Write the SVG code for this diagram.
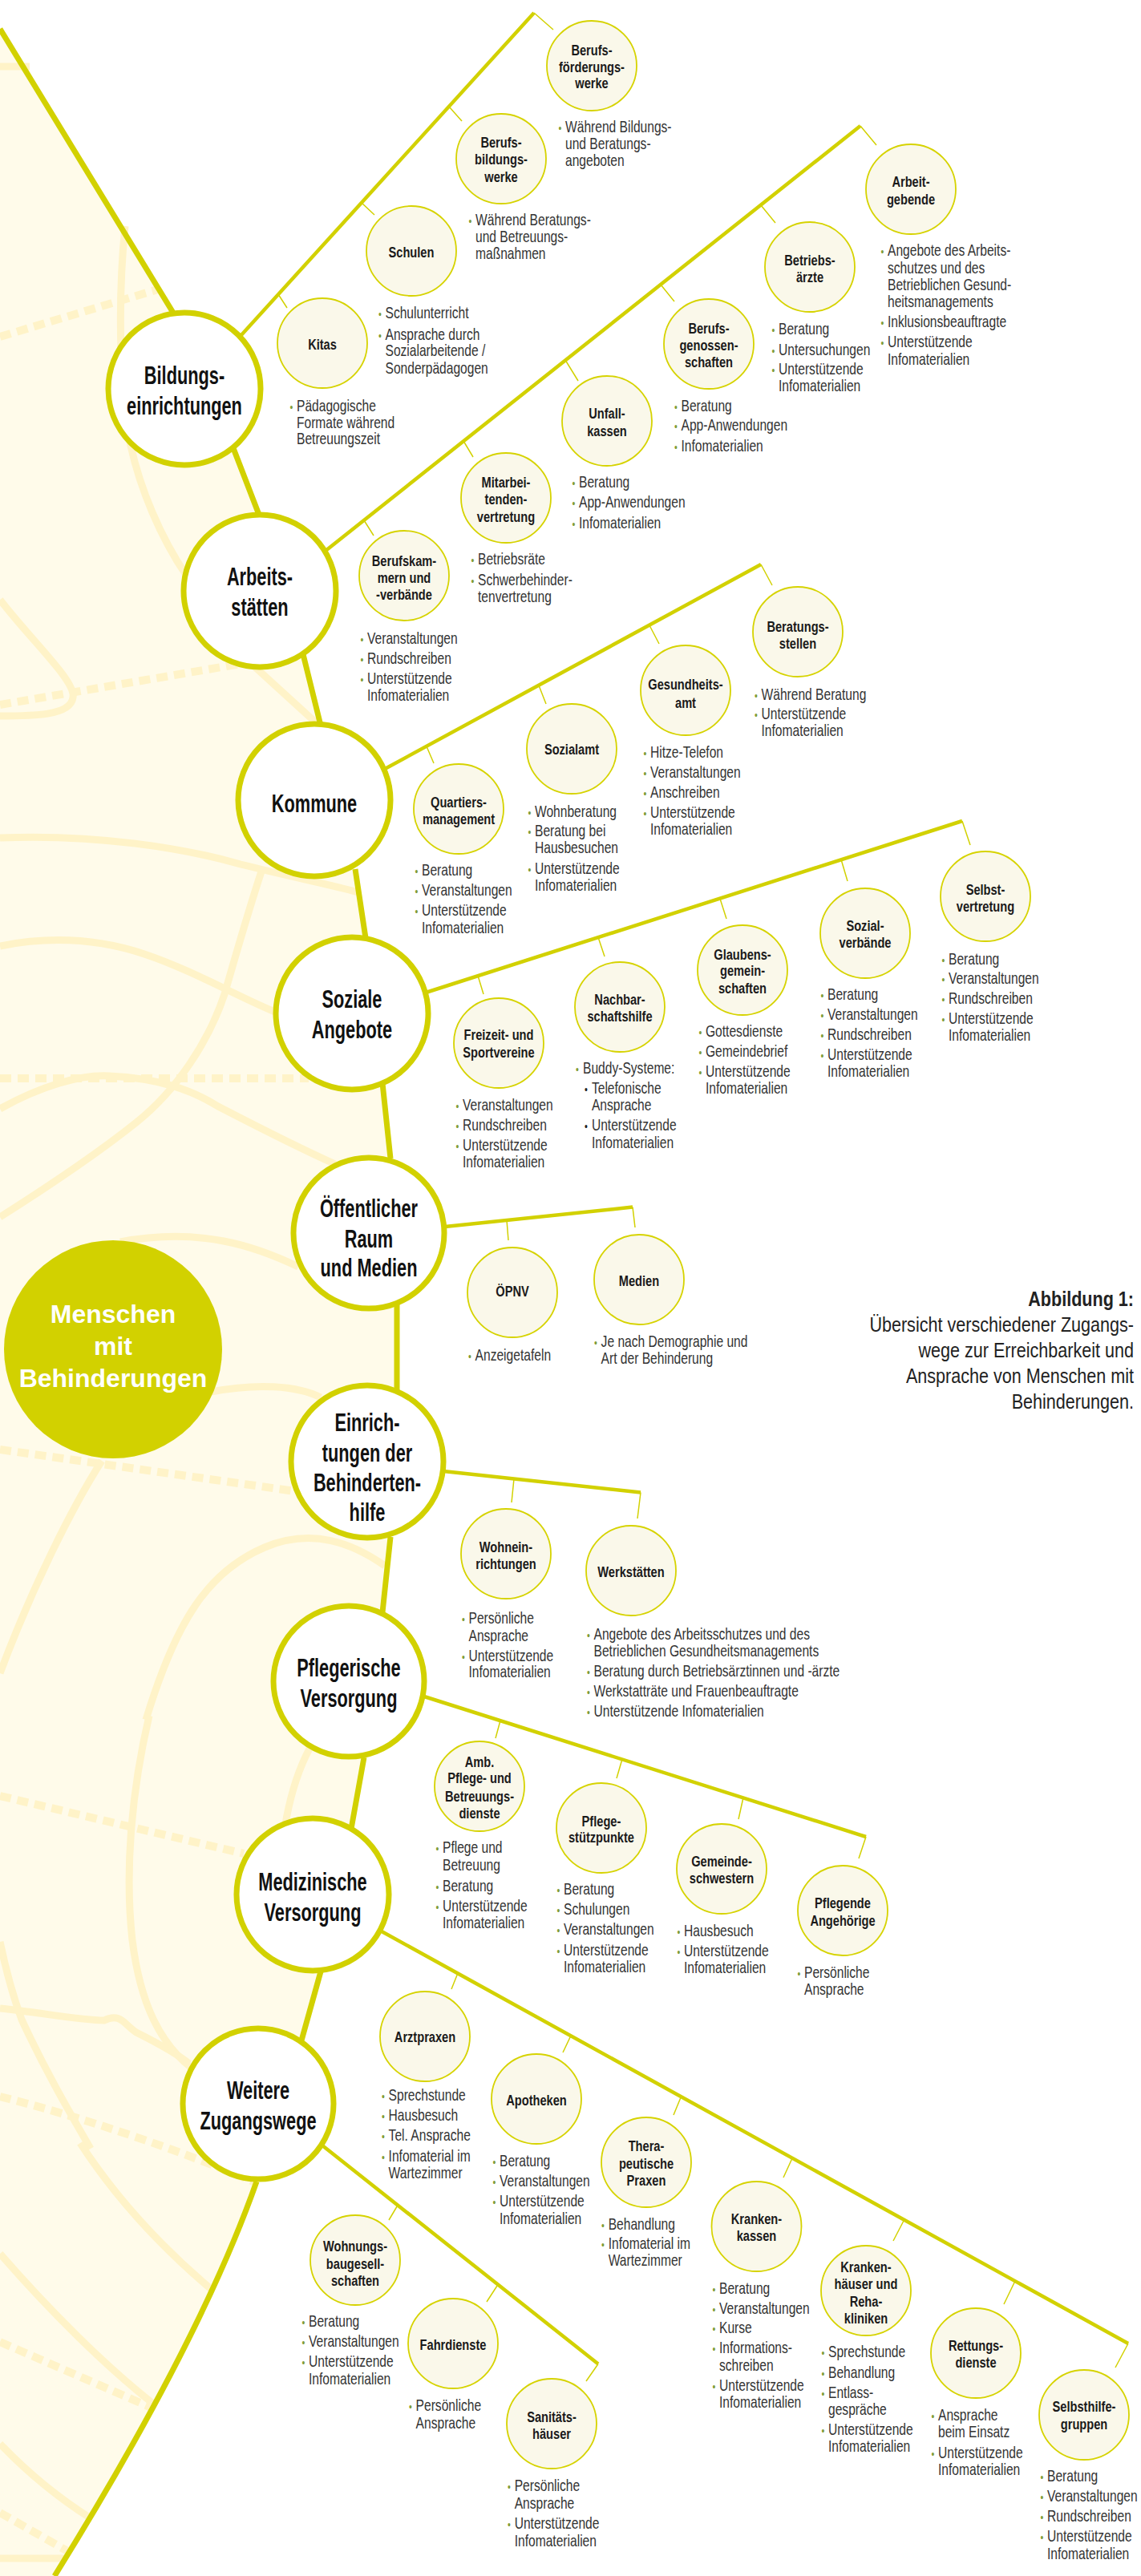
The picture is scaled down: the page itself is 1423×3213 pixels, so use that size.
<svg xmlns="http://www.w3.org/2000/svg" width="1423" height="3213" viewBox="0 0 1423 3213">
<style>
.spine{fill:none;stroke:#d2d100;stroke-width:7}
.br{fill:none;stroke:#d2d100;stroke-width:4.5}
.tk{fill:none;stroke:#d2d100;stroke-width:1.5}
.deco{fill:none;stroke:#fff3c8;stroke-width:9}
.dash{fill:none;stroke:#fff3c8;stroke-width:10;stroke-dasharray:14 8}
.mn{fill:#fff;stroke:#d2d100;stroke-width:7}
.sn{fill:#faf8ea;stroke:#d6d300;stroke-width:1.8}
.mt{font-family:"Liberation Sans",Arial,sans-serif;font-weight:bold;font-size:32px;fill:#111;text-anchor:middle}
.st{font-family:"Liberation Sans",Arial,sans-serif;font-weight:bold;font-size:19px;fill:#1a1a1a;text-anchor:middle}
.bt{font-family:"Liberation Sans",Arial,sans-serif;font-size:20px;fill:#333}
.g{fill:#7f9c36;font-size:14px}
.k{fill:#222;font-size:14px}
.ct{font-family:"Liberation Sans",Arial,sans-serif;font-weight:bold;font-size:32px;fill:#fff;text-anchor:middle}
.cap{font-family:"Liberation Sans",Arial,sans-serif;font-size:26px;fill:#222;text-anchor:end}
</style>
<rect width="1423" height="3213" fill="#fff"/>
<g id="background">
<path d="M0,36 L217,391 L230,485 L291,559 L323,642 L324,737 L378,816 L400,905 L392,998 L443,1084 L456,1170 L439,1264 L477,1351 L487,1445 L460,1538 L495,1626 L495,1734 L458,1823 L487,1917 L477,2011 L435,2097 L454,2192 L438,2281 L390,2363 L400,2459 L376,2545 L322,2624 L320,2721 Q250,2920 68,3213 L0,3213 Z" fill="#fffbea"/>
<path class="deco" d="M0,83 L37,83"/>
<path class="deco" d="M156,282 C146,380 150,500 163,556 C175,610 200,670 232,717"/>
<path class="dash" d="M0,420 L200,360"/>
<path class="dash" d="M0,879 L300,828"/>
<path class="deco" d="M0,748 C40,800 95,850 91,870 C88,893 40,893 0,893"/>
<path class="deco" d="M0,1045 C120,1040 230,1058 300,1078 C360,1093 410,1103 447,1113"/>
<path class="deco" d="M318,832 L398,905"/>
<path class="deco" d="M0,1180 C60,1168 120,1170 180,1190 C240,1210 300,1245 345,1263"/>
<path class="deco" d="M0,1518 C60,1480 120,1440 170,1400 C220,1360 260,1300 280,1240 C300,1170 315,1120 327,1084"/>
<path class="deco" d="M0,1383 C50,1355 100,1340 136,1342 C200,1345 240,1360 272,1380 C330,1410 380,1435 418,1452"/>
<path class="dash" d="M0,1345 L385,1345"/>
<path class="deco" d="M150,1549 C250,1530 320,1555 372,1580"/>
<path class="deco" d="M263,1736 C320,1725 370,1728 400,1743"/>
<path class="dash" d="M0,1808 L368,1860"/>
<path class="deco" d="M182,2145 C220,2020 260,1960 330,1930 C390,1905 440,1925 480,1953"/>
<path class="deco" d="M0,2087 C40,1980 90,1880 127,1822"/>
<path class="deco" d="M186,2140 C165,2230 155,2330 165,2420 C175,2500 200,2550 241,2581"/>
<path class="deco" d="M0,2422 C10,2470 20,2500 27,2519 C60,2590 90,2640 113,2680"/>
<path class="deco" d="M0,2505 C50,2510 100,2520 130,2520 C150,2510 155,2525 170,2535 C200,2550 225,2565 236,2574"/>
<path class="deco" d="M386,2181 C360,2230 348,2300 350,2360"/>
<path class="dash" d="M0,2240 L304,2312"/>
<path class="dash" d="M0,2615 C100,2640 220,2680 318,2722"/>
<path class="deco" d="M100,2673 C150,2750 210,2810 263,2855"/>
<path class="deco" d="M0,2811 C60,2880 130,2950 191,2998"/>
<path class="dash" d="M0,2921 L191,3004"/>
<path class="deco" d="M0,3048 C40,3090 80,3120 113,3141"/>
<path class="dash" d="M0,3134 L86,3183"/>
<path class="deco" d="M0,3191 L80,3191"/>
</g>
<g id="connectors">
<path class="spine" d="M0,36 L219,395 M291,559 L323,642 M378,816 L400,905 M443,1084 L456,1170 M477,1351 L487,1445 M495,1626 L495,1734 M487,1917 L477,2011 M454,2192 L438,2281 M400,2459 L376,2545 M320,2721 Q250,2920 68,3213"/>
<path class="br" d="M300,419 L666,16 M406,687 L1073,157 M480,959 L949,704 M531,1238 L1200,1024 M555,1530 L789,1505.6 M553,1835 L799,1861.5 M529,2116 L1080,2291 M476,2409 L1407,2923 M402,2676 L746,2948.5"/>
<path class="tk" d="M347,367 L358,384 M451,253 L467,268 M560,133 L576,151 M666,16 L690,37
M454,649 L466,668 M578,550 L590,570 M705,449 L721,475 M824,355 L841,376 M949,256 L967,278 M1073,157 L1093,181
M532,931 L541,952 M672,855 L681,878 M810,780 L822,803 M949,704 L963,730
M596,1217 L603,1240 M746,1169 L754,1193 M898,1121 L906,1146 M1049,1072 L1057,1099 M1200,1024 L1210,1054
M632,1522 L634,1547 M789,1505.6 L792,1531
M641,1844.5 L638,1874 M799,1861.5 L795,1894
M624,2146 L618,2168 M776,2194 L769,2218 M927,2242 L921,2269 M1080,2291 L1071,2318
M571,2461 L563,2481 M712,2539 L702,2560 M849.5,2615 L840,2638 M988,2692 L977,2716 M1127.5,2769 L1114,2795 M1266,2845 L1252,2874 M1407,2923 L1391,2953
M496,2750.5 L485,2769 M621,2849.5 L607,2871 M746,2948.5 L731,2970"/>
</g>
<g id="center-node">
<circle cx="141" cy="1683" r="136" fill="#d2d100"/>
<text class="ct"><tspan x="141" y="1650">Menschen</tspan><tspan x="141" y="1690">mit</tspan><tspan x="141" y="1730">Behinderungen</tspan></text>
</g>
<g id="main-nodes">
<g id="n-bildung"><circle class="mn" cx="230" cy="485" r="95"/><text class="mt" transform="matrix(0.68 0 0 1 73.6 0)"><tspan x="230" y="479">Bildungs-</tspan><tspan x="230" y="517">einrichtungen</tspan></text></g>
<g id="n-arbeit"><circle class="mn" cx="324" cy="737" r="95"/><text class="mt" transform="matrix(0.68 0 0 1 103.68 0)"><tspan x="324" y="730">Arbeits-</tspan><tspan x="324" y="768">stätten</tspan></text></g>
<g id="n-kommune"><circle class="mn" cx="392" cy="998" r="95"/><text class="mt" transform="matrix(0.68 0 0 1 125.44 0)"><tspan x="392" y="1013">Kommune</tspan></text></g>
<g id="n-soziale"><circle class="mn" cx="439" cy="1264" r="95"/><text class="mt" transform="matrix(0.68 0 0 1 140.48 0)"><tspan x="439" y="1257">Soziale</tspan><tspan x="439" y="1295">Angebote</tspan></text></g>
<g id="n-oeffentlich"><circle class="mn" cx="460" cy="1538" r="94"/><text class="mt" transform="matrix(0.68 0 0 1 147.2 0)"><tspan x="460" y="1518">Öffentlicher</tspan><tspan x="460" y="1556">Raum</tspan><tspan x="460" y="1592">und Medien</tspan></text></g>
<g id="n-einrichtungen"><circle class="mn" cx="458" cy="1823" r="95"/><text class="mt" transform="matrix(0.68 0 0 1 146.56 0)"><tspan x="458" y="1785">Einrich-</tspan><tspan x="458" y="1823">tungen der</tspan><tspan x="458" y="1860">Behinderten-</tspan><tspan x="458" y="1897">hilfe</tspan></text></g>
<g id="n-pflege"><circle class="mn" cx="435" cy="2097" r="94"/><text class="mt" transform="matrix(0.68 0 0 1 139.2 0)"><tspan x="435" y="2091">Pflegerische</tspan><tspan x="435" y="2129">Versorgung</tspan></text></g>
<g id="n-medizin"><circle class="mn" cx="390" cy="2363" r="95"/><text class="mt" transform="matrix(0.68 0 0 1 124.8 0)"><tspan x="390" y="2358">Medizinische</tspan><tspan x="390" y="2396">Versorgung</tspan></text></g>
<g id="n-weitere"><circle class="mn" cx="322" cy="2624" r="94"/><text class="mt" transform="matrix(0.68 0 0 1 103.04 0)"><tspan x="322" y="2618">Weitere</tspan><tspan x="322" y="2656">Zugangswege</tspan></text></g>
</g>
<g id="sub-nodes">
<g id="s-kitas"><circle class="sn" cx="402" cy="428" r="56"/><text class="st" transform="matrix(0.77 0 0 1 92.46 0)" x="402" y="436">Kitas</text>
<text class="bt" transform="matrix(0.78 0 0 1 81.4 0)"><tspan class="g" x="359" y="513">•</tspan><tspan x="370" y="513">Pädagogische</tspan><tspan x="370" y="534">Formate während</tspan><tspan x="370" y="554">Betreuungszeit</tspan></text></g>
<g id="s-schulen"><circle class="sn" cx="513" cy="313" r="56"/><text class="st" transform="matrix(0.77 0 0 1 117.99 0)" x="513" y="321">Schulen</text>
<text class="bt" transform="matrix(0.78 0 0 1 105.71 0)"><tspan class="g" x="469.5" y="397">•</tspan><tspan x="480.5" y="397">Schulunterricht</tspan><tspan class="g" x="469.5" y="424">•</tspan><tspan x="480.5" y="424">Ansprache durch</tspan><tspan x="480.5" y="444">Sozialarbeitende /</tspan><tspan x="480.5" y="466">Sonderpädagogen</tspan></text></g>
<g id="s-bbw"><circle class="sn" cx="625" cy="198" r="56"/><text class="st" transform="matrix(0.77 0 0 1 143.75 0)"><tspan x="625" y="184">Berufs-</tspan><tspan x="625" y="205">bildungs-</tspan><tspan x="625" y="227">werke</tspan></text>
<text class="bt" transform="matrix(0.78 0 0 1 130.46 0)"><tspan class="g" x="582" y="281">•</tspan><tspan x="593" y="281">Während Beratungs-</tspan><tspan x="593" y="302">und Betreuungs-</tspan><tspan x="593" y="323">maßnahmen</tspan></text></g>
<g id="s-bfw"><circle class="sn" cx="738" cy="82" r="56"/><text class="st" transform="matrix(0.77 0 0 1 169.74 0)"><tspan x="738" y="69">Berufs-</tspan><tspan x="738" y="90">förderungs-</tspan><tspan x="738" y="110">werke</tspan></text>
<text class="bt" transform="matrix(0.78 0 0 1 155.1 0)"><tspan class="g" x="694" y="165">•</tspan><tspan x="705" y="165">Während Bildungs-</tspan><tspan x="705" y="186">und Beratungs-</tspan><tspan x="705" y="207">angeboten</tspan></text></g>
<g id="s-kammern"><circle class="sn" cx="504" cy="718" r="56"/><text class="st" transform="matrix(0.77 0 0 1 115.92 0)"><tspan x="504" y="706">Berufskam-</tspan><tspan x="504" y="727">mern und</tspan><tspan x="504" y="748">-verbände</tspan></text>
<text class="bt" transform="matrix(0.78 0 0 1 100.76 0)"><tspan class="g" x="447" y="803">•</tspan><tspan x="458" y="803">Veranstaltungen</tspan><tspan class="g" x="447" y="828">•</tspan><tspan x="458" y="828">Rundschreiben</tspan><tspan class="g" x="447" y="853">•</tspan><tspan x="458" y="853">Unterstützende</tspan><tspan x="458" y="874">Infomaterialien</tspan></text></g>
<g id="s-mitarbeitende"><circle class="sn" cx="631" cy="621" r="56"/><text class="st" transform="matrix(0.77 0 0 1 145.13 0)"><tspan x="631" y="608">Mitarbei-</tspan><tspan x="631" y="629.5">tenden-</tspan><tspan x="631" y="651">vertretung</tspan></text>
<text class="bt" transform="matrix(0.78 0 0 1 131.12 0)"><tspan class="g" x="585" y="704">•</tspan><tspan x="596" y="704">Betriebsräte</tspan><tspan class="g" x="585" y="730">•</tspan><tspan x="596" y="730">Schwerbehinder-</tspan><tspan x="596" y="751">tenvertretung</tspan></text></g>
<g id="s-unfall"><circle class="sn" cx="757" cy="525" r="56"/><text class="st" transform="matrix(0.77 0 0 1 174.11 0)"><tspan x="757" y="522">Unfall-</tspan><tspan x="757" y="544">kassen</tspan></text>
<text class="bt" transform="matrix(0.78 0 0 1 158.84 0)"><tspan class="g" x="711" y="608">•</tspan><tspan x="722" y="608">Beratung</tspan><tspan class="g" x="711" y="633">•</tspan><tspan x="722" y="633">App-Anwendungen</tspan><tspan class="g" x="711" y="659">•</tspan><tspan x="722" y="659">Infomaterialien</tspan></text></g>
<g id="s-bg"><circle class="sn" cx="884" cy="429" r="56"/><text class="st" transform="matrix(0.77 0 0 1 203.32 0)"><tspan x="884" y="416">Berufs-</tspan><tspan x="884" y="437">genossen-</tspan><tspan x="884" y="458">schaften</tspan></text>
<text class="bt" transform="matrix(0.78 0 0 1 186.89 0)"><tspan class="g" x="838.5" y="513">•</tspan><tspan x="849.5" y="513">Beratung</tspan><tspan class="g" x="838.5" y="537">•</tspan><tspan x="849.5" y="537">App-Anwendungen</tspan><tspan class="g" x="838.5" y="563">•</tspan><tspan x="849.5" y="563">Infomaterialien</tspan></text></g>
<g id="s-betriebsaerzte"><circle class="sn" cx="1010" cy="333" r="56"/><text class="st" transform="matrix(0.77 0 0 1 232.3 0)"><tspan x="1010" y="331">Betriebs-</tspan><tspan x="1010" y="352">ärzte</tspan></text>
<text class="bt" transform="matrix(0.78 0 0 1 213.62 0)"><tspan class="g" x="960" y="417">•</tspan><tspan x="971" y="417">Beratung</tspan><tspan class="g" x="960" y="443">•</tspan><tspan x="971" y="443">Untersuchungen</tspan><tspan class="g" x="960" y="467">•</tspan><tspan x="971" y="467">Unterstützende</tspan><tspan x="971" y="488">Infomaterialien</tspan></text></g>
<g id="s-arbeitgebende"><circle class="sn" cx="1136" cy="236" r="56"/><text class="st" transform="matrix(0.77 0 0 1 261.28 0)"><tspan x="1136" y="233">Arbeit-</tspan><tspan x="1136" y="255">gebende</tspan></text>
<text class="bt" transform="matrix(0.78 0 0 1 243.54 0)"><tspan class="g" x="1096" y="319">•</tspan><tspan x="1107" y="319">Angebote des Arbeits-</tspan><tspan x="1107" y="341">schutzes und des</tspan><tspan x="1107" y="362">Betrieblichen Gesund-</tspan><tspan x="1107" y="383">heitsmanagements</tspan><tspan class="g" x="1096" y="408">•</tspan><tspan x="1107" y="408">Inklusionsbeauftragte</tspan><tspan class="g" x="1096" y="433">•</tspan><tspan x="1107" y="433">Unterstützende</tspan><tspan x="1107" y="455">Infomaterialien</tspan></text></g>
<g id="s-quartier"><circle class="sn" cx="572" cy="1009" r="56"/><text class="st" transform="matrix(0.77 0 0 1 131.56 0)"><tspan x="572" y="1007">Quartiers-</tspan><tspan x="572" y="1028">management</tspan></text>
<text class="bt" transform="matrix(0.78 0 0 1 115.72 0)"><tspan class="g" x="515" y="1092.5">•</tspan><tspan x="526" y="1092.5">Beratung</tspan><tspan class="g" x="515" y="1117">•</tspan><tspan x="526" y="1117">Veranstaltungen</tspan><tspan class="g" x="515" y="1142">•</tspan><tspan x="526" y="1142">Unterstützende</tspan><tspan x="526" y="1164">Infomaterialien</tspan></text></g>
<g id="s-sozialamt"><circle class="sn" cx="713" cy="934" r="56"/><text class="st" transform="matrix(0.77 0 0 1 163.99 0)" x="713" y="941.5">Sozialamt</text>
<text class="bt" transform="matrix(0.78 0 0 1 146.74 0)"><tspan class="g" x="656" y="1019">•</tspan><tspan x="667" y="1019">Wohnberatung</tspan><tspan class="g" x="656" y="1043">•</tspan><tspan x="667" y="1043">Beratung bei</tspan><tspan x="667" y="1064">Hausbesuchen</tspan><tspan class="g" x="656" y="1090">•</tspan><tspan x="667" y="1090">Unterstützende</tspan><tspan x="667" y="1111">Infomaterialien</tspan></text></g>
<g id="s-gesundheitsamt"><circle class="sn" cx="855" cy="861" r="56"/><text class="st" transform="matrix(0.77 0 0 1 196.65 0)"><tspan x="855" y="860.5">Gesundheits-</tspan><tspan x="855" y="883">amt</tspan></text>
<text class="bt" transform="matrix(0.78 0 0 1 178.42 0)"><tspan class="g" x="800" y="945">•</tspan><tspan x="811" y="945">Hitze-Telefon</tspan><tspan class="g" x="800" y="970">•</tspan><tspan x="811" y="970">Veranstaltungen</tspan><tspan class="g" x="800" y="995">•</tspan><tspan x="811" y="995">Anschreiben</tspan><tspan class="g" x="800" y="1020">•</tspan><tspan x="811" y="1020">Unterstützende</tspan><tspan x="811" y="1041">Infomaterialien</tspan></text></g>
<g id="s-beratungsstellen"><circle class="sn" cx="995" cy="788" r="56"/><text class="st" transform="matrix(0.77 0 0 1 228.85 0)"><tspan x="995" y="788">Beratungs-</tspan><tspan x="995" y="809">stellen</tspan></text>
<text class="bt" transform="matrix(0.78 0 0 1 208.89 0)"><tspan class="g" x="938.5" y="873">•</tspan><tspan x="949.5" y="873">Während Beratung</tspan><tspan class="g" x="938.5" y="897">•</tspan><tspan x="949.5" y="897">Unterstützende</tspan><tspan x="949.5" y="918">Infomaterialien</tspan></text></g>
<g id="s-freizeit"><circle class="sn" cx="622" cy="1301" r="56"/><text class="st" transform="matrix(0.77 0 0 1 143.06 0)"><tspan x="622" y="1297">Freizeit- und</tspan><tspan x="622" y="1319">Sportvereine</tspan></text>
<text class="bt" transform="matrix(0.78 0 0 1 126.94 0)"><tspan class="g" x="566" y="1385">•</tspan><tspan x="577" y="1385">Veranstaltungen</tspan><tspan class="g" x="566" y="1410">•</tspan><tspan x="577" y="1410">Rundschreiben</tspan><tspan class="g" x="566" y="1435">•</tspan><tspan x="577" y="1435">Unterstützende</tspan><tspan x="577" y="1456">Infomaterialien</tspan></text></g>
<g id="s-nachbar"><circle class="sn" cx="773" cy="1256" r="56"/><text class="st" transform="matrix(0.77 0 0 1 177.79 0)"><tspan x="773" y="1252.6">Nachbar-</tspan><tspan x="773" y="1274">schaftshilfe</tspan></text>
<text class="bt" transform="matrix(0.78 0 0 1 159.94 0)"><tspan class="g" x="715.5" y="1339">•</tspan><tspan x="727" y="1339">Buddy-Systeme:</tspan><tspan class="k" x="729.6" y="1364">•</tspan><tspan x="741" y="1364">Telefonische</tspan><tspan x="741" y="1385">Ansprache</tspan><tspan class="k" x="729.6" y="1410">•</tspan><tspan x="741" y="1410">Unterstützende</tspan><tspan x="741" y="1432">Infomaterialien</tspan></text></g>
<g id="s-glauben"><circle class="sn" cx="926" cy="1210" r="56"/><text class="st" transform="matrix(0.77 0 0 1 212.98 0)"><tspan x="926" y="1197">Glaubens-</tspan><tspan x="926" y="1217.5">gemein-</tspan><tspan x="926" y="1239">schaften</tspan></text>
<text class="bt" transform="matrix(0.78 0 0 1 193.6 0)"><tspan class="g" x="869" y="1293">•</tspan><tspan x="880" y="1293">Gottesdienste</tspan><tspan class="g" x="869" y="1318">•</tspan><tspan x="880" y="1318">Gemeindebrief</tspan><tspan class="g" x="869" y="1343">•</tspan><tspan x="880" y="1343">Unterstützende</tspan><tspan x="880" y="1364.5">Infomaterialien</tspan></text></g>
<g id="s-sozialverbaende"><circle class="sn" cx="1079" cy="1164" r="56"/><text class="st" transform="matrix(0.77 0 0 1 248.17 0)"><tspan x="1079" y="1161">Sozial-</tspan><tspan x="1079" y="1182">verbände</tspan></text>
<text class="bt" transform="matrix(0.78 0 0 1 227.04 0)"><tspan class="g" x="1021" y="1247">•</tspan><tspan x="1032" y="1247">Beratung</tspan><tspan class="g" x="1021" y="1272">•</tspan><tspan x="1032" y="1272">Veranstaltungen</tspan><tspan class="g" x="1021" y="1297">•</tspan><tspan x="1032" y="1297">Rundschreiben</tspan><tspan class="g" x="1021" y="1322">•</tspan><tspan x="1032" y="1322">Unterstützende</tspan><tspan x="1032" y="1343">Infomaterialien</tspan></text></g>
<g id="s-selbstvertretung"><circle class="sn" cx="1229" cy="1118" r="56"/><text class="st" transform="matrix(0.77 0 0 1 282.67 0)"><tspan x="1229" y="1115.6">Selbst-</tspan><tspan x="1229" y="1137">vertretung</tspan></text>
<text class="bt" transform="matrix(0.78 0 0 1 260.26 0)"><tspan class="g" x="1172" y="1203">•</tspan><tspan x="1183" y="1203">Beratung</tspan><tspan class="g" x="1172" y="1227">•</tspan><tspan x="1183" y="1227">Veranstaltungen</tspan><tspan class="g" x="1172" y="1252">•</tspan><tspan x="1183" y="1252">Rundschreiben</tspan><tspan class="g" x="1172" y="1277">•</tspan><tspan x="1183" y="1277">Unterstützende</tspan><tspan x="1183" y="1298">Infomaterialien</tspan></text></g>
<g id="s-oepnv"><circle class="sn" cx="639" cy="1612" r="56"/><text class="st" transform="matrix(0.77 0 0 1 146.97 0)" x="639" y="1617">ÖPNV</text>
<text class="bt" transform="matrix(0.78 0 0 1 130.37 0)"><tspan class="g" x="581.6" y="1697">•</tspan><tspan x="592.6" y="1697">Anzeigetafeln</tspan></text></g>
<g id="s-medien"><circle class="sn" cx="797" cy="1596" r="56"/><text class="st" transform="matrix(0.77 0 0 1 183.31 0)" x="797" y="1604">Medien</text>
<text class="bt" transform="matrix(0.78 0 0 1 164.91 0)"><tspan class="g" x="738.6" y="1680">•</tspan><tspan x="749.6" y="1680">Je nach Demographie und</tspan><tspan x="749.6" y="1701.5">Art der Behinderung</tspan></text></g>
<g id="s-wohnein"><circle class="sn" cx="631" cy="1938" r="56"/><text class="st" transform="matrix(0.77 0 0 1 145.13 0)"><tspan x="631" y="1936">Wohnein-</tspan><tspan x="631" y="1957">richtungen</tspan></text>
<text class="bt" transform="matrix(0.78 0 0 1 128.59 0)"><tspan class="g" x="573.5" y="2025">•</tspan><tspan x="584.5" y="2025">Persönliche</tspan><tspan x="584.5" y="2046.6">Ansprache</tspan><tspan class="g" x="573.5" y="2072">•</tspan><tspan x="584.5" y="2072">Unterstützende</tspan><tspan x="584.5" y="2092">Infomaterialien</tspan></text></g>
<g id="s-werkstaetten"><circle class="sn" cx="787" cy="1959" r="56"/><text class="st" transform="matrix(0.77 0 0 1 181.01 0)" x="787" y="1967">Werkstätten</text>
<text class="bt" transform="matrix(0.78 0 0 1 162.91 0)"><tspan class="g" x="729.5" y="2045">•</tspan><tspan x="740.5" y="2045">Angebote des Arbeitsschutzes und des</tspan><tspan x="740.5" y="2066.5">Betrieblichen Gesundheitsmanagements</tspan><tspan class="g" x="729.5" y="2091">•</tspan><tspan x="740.5" y="2091">Beratung durch Betriebsärztinnen und -ärzte</tspan><tspan class="g" x="729.5" y="2116.5">•</tspan><tspan x="740.5" y="2116.5">Werkstatträte und Frauenbeauftragte</tspan><tspan class="g" x="729.5" y="2141">•</tspan><tspan x="740.5" y="2141">Unterstützende Infomaterialien</tspan></text></g>
<g id="s-amb"><circle class="sn" cx="598" cy="2228" r="56"/><text class="st" transform="matrix(0.77 0 0 1 137.54 0)"><tspan x="598" y="2204">Amb.</tspan><tspan x="598" y="2224.5">Pflege- und</tspan><tspan x="598" y="2247">Betreuungs-</tspan><tspan x="598" y="2268">dienste</tspan></text>
<text class="bt" transform="matrix(0.78 0 0 1 121.44 0)"><tspan class="g" x="541" y="2311">•</tspan><tspan x="552" y="2311">Pflege und</tspan><tspan x="552" y="2333">Betreuung</tspan><tspan class="g" x="541" y="2359">•</tspan><tspan x="552" y="2359">Beratung</tspan><tspan class="g" x="541" y="2383.6">•</tspan><tspan x="552" y="2383.6">Unterstützende</tspan><tspan x="552" y="2404.6">Infomaterialien</tspan></text></g>
<g id="s-pflegestuetz"><circle class="sn" cx="750" cy="2280" r="56"/><text class="st" transform="matrix(0.77 0 0 1 172.5 0)"><tspan x="750" y="2278">Pflege-</tspan><tspan x="750" y="2298.5">stützpunkte</tspan></text>
<text class="bt" transform="matrix(0.78 0 0 1 154.66 0)"><tspan class="g" x="692" y="2363">•</tspan><tspan x="703" y="2363">Beratung</tspan><tspan class="g" x="692" y="2388">•</tspan><tspan x="703" y="2388">Schulungen</tspan><tspan class="g" x="692" y="2413">•</tspan><tspan x="703" y="2413">Veranstaltungen</tspan><tspan class="g" x="692" y="2439">•</tspan><tspan x="703" y="2439">Unterstützende</tspan><tspan x="703" y="2460">Infomaterialien</tspan></text></g>
<g id="s-gemeinde"><circle class="sn" cx="900" cy="2331" r="56"/><text class="st" transform="matrix(0.77 0 0 1 207 0)"><tspan x="900" y="2328">Gemeinde-</tspan><tspan x="900" y="2349">schwestern</tspan></text>
<text class="bt" transform="matrix(0.78 0 0 1 187.66 0)"><tspan class="g" x="842" y="2414.6">•</tspan><tspan x="853" y="2414.6">Hausbesuch</tspan><tspan class="g" x="842" y="2440">•</tspan><tspan x="853" y="2440">Unterstützende</tspan><tspan x="853" y="2461">Infomaterialien</tspan></text></g>
<g id="s-pflegende"><circle class="sn" cx="1051" cy="2383" r="56"/><text class="st" transform="matrix(0.77 0 0 1 241.73 0)"><tspan x="1051" y="2380.5">Pflegende</tspan><tspan x="1051" y="2402">Angehörige</tspan></text>
<text class="bt" transform="matrix(0.78 0 0 1 220.66 0)"><tspan class="g" x="992" y="2466.6">•</tspan><tspan x="1003" y="2466.6">Persönliche</tspan><tspan x="1003" y="2488">Ansprache</tspan></text></g>
<g id="s-arzt"><circle class="sn" cx="530" cy="2540" r="56"/><text class="st" transform="matrix(0.77 0 0 1 121.9 0)" x="530" y="2547.5">Arztpraxen</text>
<text class="bt" transform="matrix(0.78 0 0 1 106.61 0)"><tspan class="g" x="473.6" y="2620.5">•</tspan><tspan x="484.6" y="2620.5">Sprechstunde</tspan><tspan class="g" x="473.6" y="2645">•</tspan><tspan x="484.6" y="2645">Hausbesuch</tspan><tspan class="g" x="473.6" y="2670">•</tspan><tspan x="484.6" y="2670">Tel. Ansprache</tspan><tspan class="g" x="473.6" y="2696.5">•</tspan><tspan x="484.6" y="2696.5">Infomaterial im</tspan><tspan x="484.6" y="2717">Wartezimmer</tspan></text></g>
<g id="s-apotheken"><circle class="sn" cx="669" cy="2618" r="56"/><text class="st" transform="matrix(0.77 0 0 1 153.87 0)" x="669" y="2625.6">Apotheken</text>
<text class="bt" transform="matrix(0.78 0 0 1 137.06 0)"><tspan class="g" x="612" y="2702">•</tspan><tspan x="623" y="2702">Beratung</tspan><tspan class="g" x="612" y="2727.5">•</tspan><tspan x="623" y="2727.5">Veranstaltungen</tspan><tspan class="g" x="612" y="2752">•</tspan><tspan x="623" y="2752">Unterstützende</tspan><tspan x="623" y="2774">Infomaterialien</tspan></text></g>
<g id="s-thera"><circle class="sn" cx="806" cy="2697" r="56"/><text class="st" transform="matrix(0.77 0 0 1 185.38 0)"><tspan x="806" y="2683.5">Thera-</tspan><tspan x="806" y="2705">peutische</tspan><tspan x="806" y="2726.5">Praxen</tspan></text>
<text class="bt" transform="matrix(0.78 0 0 1 166.91 0)"><tspan class="g" x="747.7" y="2781">•</tspan><tspan x="758.7" y="2781">Behandlung</tspan><tspan class="g" x="747.7" y="2804.7">•</tspan><tspan x="758.7" y="2804.7">Infomaterial im</tspan><tspan x="758.7" y="2826">Wartezimmer</tspan></text></g>
<g id="s-krankenkassen"><circle class="sn" cx="943.5" cy="2777" r="56"/><text class="st" transform="matrix(0.77 0 0 1 217.005 0)"><tspan x="943.5" y="2773.7">Kranken-</tspan><tspan x="943.5" y="2795">kassen</tspan></text>
<text class="bt" transform="matrix(0.78 0 0 1 197.34 0)"><tspan class="g" x="886" y="2861">•</tspan><tspan x="897" y="2861">Beratung</tspan><tspan class="g" x="886" y="2885.6">•</tspan><tspan x="897" y="2885.6">Veranstaltungen</tspan><tspan class="g" x="886" y="2910">•</tspan><tspan x="897" y="2910">Kurse</tspan><tspan class="g" x="886" y="2935.5">•</tspan><tspan x="897" y="2935.5">Informations-</tspan><tspan x="897" y="2957">schreiben</tspan><tspan class="g" x="886" y="2982">•</tspan><tspan x="897" y="2982">Unterstützende</tspan><tspan x="897" y="3003">Infomaterialien</tspan></text></g>
<g id="s-krankenhaeuser"><circle class="sn" cx="1080" cy="2857" r="56"/><text class="st" transform="matrix(0.77 0 0 1 248.4 0)"><tspan x="1080" y="2834">Kranken-</tspan><tspan x="1080" y="2855">häuser und</tspan><tspan x="1080" y="2877">Reha-</tspan><tspan x="1080" y="2898">kliniken</tspan></text>
<text class="bt" transform="matrix(0.78 0 0 1 227.26 0)"><tspan class="g" x="1022" y="2940">•</tspan><tspan x="1033" y="2940">Sprechstunde</tspan><tspan class="g" x="1022" y="2966">•</tspan><tspan x="1033" y="2966">Behandlung</tspan><tspan class="g" x="1022" y="2991">•</tspan><tspan x="1033" y="2991">Entlass-</tspan><tspan x="1033" y="3011.6">gespräche</tspan><tspan class="g" x="1022" y="3037">•</tspan><tspan x="1033" y="3037">Unterstützende</tspan><tspan x="1033" y="3058">Infomaterialien</tspan></text></g>
<g id="s-rettung"><circle class="sn" cx="1217" cy="2935" r="56"/><text class="st" transform="matrix(0.77 0 0 1 279.91 0)"><tspan x="1217" y="2932">Rettungs-</tspan><tspan x="1217" y="2953">dienste</tspan></text>
<text class="bt" transform="matrix(0.78 0 0 1 257.4 0)"><tspan class="g" x="1159" y="3019">•</tspan><tspan x="1170" y="3019">Ansprache</tspan><tspan x="1170" y="3040">beim Einsatz</tspan><tspan class="g" x="1159" y="3065.7">•</tspan><tspan x="1170" y="3065.7">Unterstützende</tspan><tspan x="1170" y="3087">Infomaterialien</tspan></text></g>
<g id="s-selbsthilfe"><circle class="sn" cx="1352" cy="3012" r="56"/><text class="st" transform="matrix(0.77 0 0 1 310.96 0)"><tspan x="1352" y="3008">Selbsthilfe-</tspan><tspan x="1352" y="3030.5">gruppen</tspan></text>
<text class="bt" transform="matrix(0.78 0 0 1 287.32 0)"><tspan class="g" x="1295" y="3095">•</tspan><tspan x="1306" y="3095">Beratung</tspan><tspan class="g" x="1295" y="3120">•</tspan><tspan x="1306" y="3120">Veranstaltungen</tspan><tspan class="g" x="1295" y="3145">•</tspan><tspan x="1306" y="3145">Rundschreiben</tspan><tspan class="g" x="1295" y="3170">•</tspan><tspan x="1306" y="3170">Unterstützende</tspan><tspan x="1306" y="3192">Infomaterialien</tspan></text></g>
<g id="s-wohnungsbau"><circle class="sn" cx="443" cy="2819" r="56"/><text class="st" transform="matrix(0.77 0 0 1 101.89 0)"><tspan x="443" y="2808">Wohnungs-</tspan><tspan x="443" y="2830">baugesell-</tspan><tspan x="443" y="2851">schaften</tspan></text>
<text class="bt" transform="matrix(0.78 0 0 1 84.7 0)"><tspan class="g" x="374" y="2902">•</tspan><tspan x="385" y="2902">Beratung</tspan><tspan class="g" x="374" y="2927">•</tspan><tspan x="385" y="2927">Veranstaltungen</tspan><tspan class="g" x="374" y="2952">•</tspan><tspan x="385" y="2952">Unterstützende</tspan><tspan x="385" y="2974">Infomaterialien</tspan></text></g>
<g id="s-fahrdienste"><circle class="sn" cx="565" cy="2923" r="56"/><text class="st" transform="matrix(0.77 0 0 1 129.95 0)" x="565" y="2930.7">Fahrdienste</text>
<text class="bt" transform="matrix(0.78 0 0 1 114.09 0)"><tspan class="g" x="507.6" y="3007">•</tspan><tspan x="518.6" y="3007">Persönliche</tspan><tspan x="518.6" y="3029.5">Ansprache</tspan></text></g>
<g id="s-sanitaet"><circle class="sn" cx="688" cy="3023" r="56"/><text class="st" transform="matrix(0.77 0 0 1 158.24 0)"><tspan x="688" y="3021">Sanitäts-</tspan><tspan x="688" y="3041.6">häuser</tspan></text>
<text class="bt" transform="matrix(0.78 0 0 1 141.17 0)"><tspan class="g" x="630.7" y="3107">•</tspan><tspan x="641.7" y="3107">Persönliche</tspan><tspan x="641.7" y="3128.7">Ansprache</tspan><tspan class="g" x="630.7" y="3154.5">•</tspan><tspan x="641.7" y="3154.5">Unterstützende</tspan><tspan x="641.7" y="3176">Infomaterialien</tspan></text></g>
</g>
<g id="caption">
<text class="cap" transform="matrix(0.83 0 0 1 240.38 0)" x="1414" y="1629.5" font-weight="bold">Abbildung 1:</text>
<text class="cap" transform="matrix(0.83 0 0 1 240.38 0)"><tspan x="1414" y="1661.5">Übersicht verschiedener Zugangs-</tspan><tspan x="1414" y="1693">wege zur Erreichbarkeit und</tspan><tspan x="1414" y="1725">Ansprache von Menschen mit</tspan><tspan x="1414" y="1757">Behinderungen.</tspan></text>
</g>
</svg>
